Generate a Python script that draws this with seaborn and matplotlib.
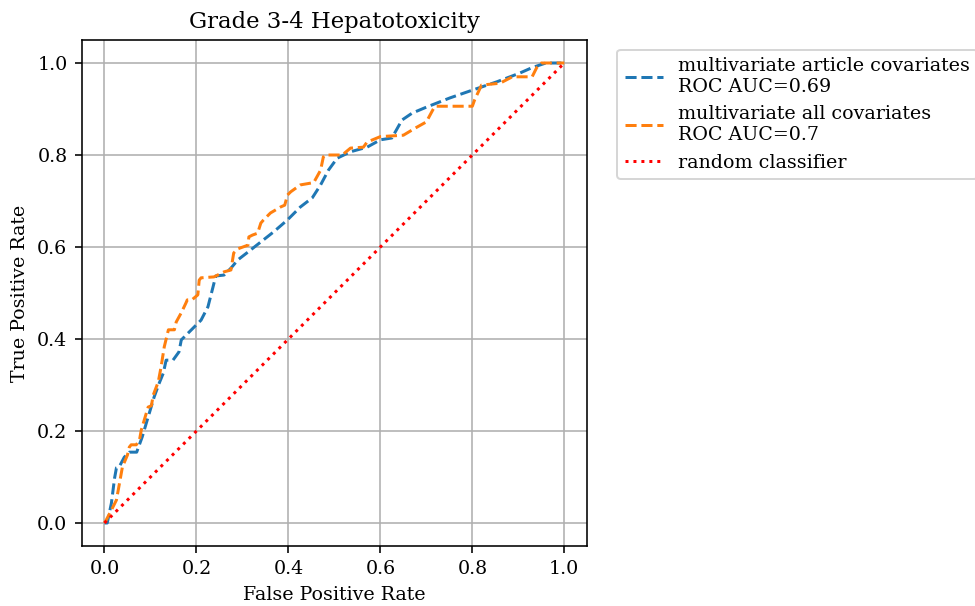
import matplotlib
matplotlib.use("Agg")
import matplotlib.pyplot as plt
import pandas as pd
import seaborn as sns

# ROC curve of the model built on the covariates used in the article
fpr_article = [0.0, 0.006, 0.015, 0.022, 0.026, 0.032, 0.043, 0.054, 0.07, 0.082,
               0.093, 0.108, 0.119, 0.128, 0.134, 0.149, 0.162, 0.167, 0.182, 0.199,
               0.21, 0.225, 0.236, 0.242, 0.26, 0.275, 0.29, 0.312, 0.34, 0.368,
               0.398, 0.426, 0.452, 0.47, 0.487, 0.506, 0.535, 0.571, 0.60, 0.625,
               0.647, 0.669, 0.70, 0.751, 0.80, 0.853, 0.903, 0.93, 0.96, 1.0]
tpr_article = [0.0, 0.0, 0.043, 0.098, 0.12, 0.122, 0.143, 0.154, 0.154, 0.187,
               0.224, 0.274, 0.304, 0.326, 0.354, 0.354, 0.372, 0.398, 0.413, 0.43,
               0.441, 0.47, 0.513, 0.537, 0.539, 0.554, 0.572, 0.589, 0.611, 0.633,
               0.659, 0.687, 0.707, 0.735, 0.767, 0.793, 0.807, 0.817, 0.833, 0.837,
               0.876, 0.891, 0.904, 0.924, 0.941, 0.959, 0.978, 0.99, 1.0, 1.0]
auc_article = 0.69

# ROC curve of the model built on all available covariates
fpr_all = [0.0, 0.004, 0.015, 0.026, 0.032, 0.039, 0.05, 0.054, 0.058, 0.069,
           0.076, 0.08, 0.091, 0.095, 0.102, 0.106, 0.117, 0.123, 0.13, 0.139,
           0.152, 0.156, 0.167, 0.177, 0.18, 0.19, 0.203, 0.206, 0.21, 0.238,
           0.26, 0.275, 0.281, 0.29, 0.312, 0.314, 0.322, 0.333, 0.34, 0.346,
           0.361, 0.383, 0.392, 0.398, 0.405, 0.426, 0.455, 0.47, 0.476, 0.48,
           0.517, 0.535, 0.563, 0.571, 0.60, 0.65, 0.675, 0.70, 0.714, 0.719,
           0.80, 0.805, 0.82, 0.86, 0.887, 0.93, 0.94, 0.95, 1.0]
tpr_all = [0.0, 0.007, 0.028, 0.05, 0.083, 0.122, 0.148, 0.165, 0.17, 0.17,
           0.18, 0.202, 0.239, 0.252, 0.255, 0.278, 0.307, 0.339, 0.383, 0.42,
           0.42, 0.437, 0.457, 0.478, 0.485, 0.485, 0.496, 0.528, 0.533, 0.535,
           0.546, 0.55, 0.587, 0.596, 0.604, 0.622, 0.626, 0.63, 0.652, 0.659,
           0.674, 0.687, 0.691, 0.713, 0.72, 0.735, 0.74, 0.767, 0.796, 0.80,
           0.80, 0.815, 0.817, 0.828, 0.84, 0.843, 0.858, 0.872, 0.898, 0.906,
           0.906, 0.92, 0.952, 0.956, 0.97, 0.97, 0.99, 1.0, 1.0]
auc_all = 0.7

# chance-level reference
chance = [0.0, 1.0]

plt.rcParams["font.family"] = ["DejaVu Serif"]
plt.rcParams["font.size"] = 9.5

fig = plt.figure(figsize=(975 / 144, 606 / 144), dpi=144)
ax = fig.add_axes([81.5 / 975, 60 / 606, 505.8 / 975, 506 / 606])

df_article = pd.DataFrame({"fpr": fpr_article, "tpr": tpr_article})
df_all = pd.DataFrame({"fpr": fpr_all, "tpr": tpr_all})
df_chance = pd.DataFrame({"fpr": chance, "tpr": chance})

sns.lineplot(data=df_article, x="fpr", y="tpr", ax=ax, sort=False, estimator=None,
             color="C0", linestyle="--",
             label=f"multivariate article covariates\nROC AUC={auc_article}")
sns.lineplot(data=df_all, x="fpr", y="tpr", ax=ax, sort=False, estimator=None,
             color="C1", linestyle="--",
             label=f"multivariate all covariates\nROC AUC={auc_all}")
sns.lineplot(data=df_chance, x="fpr", y="tpr", ax=ax, sort=False, estimator=None,
             color="red", linestyle=":", label="random classifier")

ax.set_xlim(-0.05, 1.05)
ax.set_ylim(-0.05, 1.05)
ax.set_xticks([0.0, 0.2, 0.4, 0.6, 0.8, 1.0])
ax.set_yticks([0.0, 0.2, 0.4, 0.6, 0.8, 1.0])
ax.grid(True)
ax.set_axisbelow(True)
ax.set_title("Grade 3-4 Hepatotoxicity")
ax.set_xlabel("False Positive Rate")
ax.set_ylabel("True Positive Rate")
ax.legend(loc="upper left", bbox_to_anchor=(1.04, 1))

fig.savefig("out.png", dpi=144)
